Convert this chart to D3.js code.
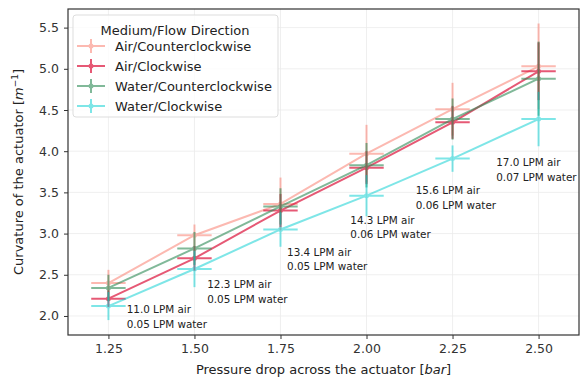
<!DOCTYPE html>
<html>
<head>
<meta charset="utf-8">
<script src="https://cdn.jsdelivr.net/npm/d3@7"></script>
<style>
  body { margin: 0; background: #fff; }
  text { font-family: "DejaVu Sans", sans-serif; }
</style>
</head>
<body>
<div id="chart"></div>
<script>
// pressure drop (bar)
const pressures = [1.25, 1.50, 1.75, 2.00, 2.25, 2.50];
const xErr = 0.05;

const seriesNames = ["Air/Counterclockwise", "Air/Clockwise", "Water/Counterclockwise", "Water/Clockwise"];
const airCcw = [2.40, 2.98, 3.36, 3.97, 4.51, 5.03];
const airCw = [2.21, 2.70, 3.28, 3.80, 4.35, 4.97];
const waterCcw = [2.34, 2.82, 3.33, 3.83, 4.39, 4.88];
const waterCw = [2.12, 2.57, 3.05, 3.46, 3.91, 4.39];

const airCcwErr = [0.16, 0.13, 0.32, 0.35, 0.32, 0.52];
const airCwErr = [0.10, 0.15, 0.20, 0.20, 0.20, 0.35];
const waterCcwErr = [0.16, 0.20, 0.22, 0.27, 0.25, 0.45];
const waterCwErr = [0.17, 0.22, 0.21, 0.25, 0.16, 0.33];

// flow rate notes, placed in data coordinates
const airFlow = ["11.0", "12.3", "13.4", "14.3", "15.6", "17.0"];
const waterFlow = ["0.05", "0.05", "0.05", "0.06", "0.06", "0.07"];
const noteX = [1.303, 1.537, 1.769, 1.953, 2.143, 2.377];
const noteY = [2.036, 2.336, 2.728, 3.117, 3.477, 3.820];

const xTicks = [1.25, 1.50, 1.75, 2.00, 2.25, 2.50];
const yTicks = [2.0, 2.5, 3.0, 3.5, 4.0, 4.5, 5.0, 5.5];

const colors = ["#fa8072", "#dc143c", "#2e8b57", "#00ced1"];
const alphas = [0.55, 0.7, 0.6, 0.5];

const series = [airCcw, airCw, waterCcw, waterCw].map((vals, i) => ({
    name: seriesNames[i],
    color: colors[i],
    alpha: alphas[i],
    points: vals.map((v, j) => ({ x: pressures[j], y: v, e: [airCcwErr, airCwErr, waterCcwErr, waterCwErr][i][j] }))
}));

const W = 581, H = 380;
const margin = { top: 9, right: 2, bottom: 45, left: 68 };
const width = W - margin.left - margin.right,
    height = H - margin.top - margin.bottom;

const svg = d3.select("#chart").append("svg")
    .attr("width", W).attr("height", H);
const g = svg.append("g").attr("transform", `translate(${margin.left},${margin.top})`);

const x = d3.scaleLinear().domain([1.1325, 2.6175]).range([0, width]);
const y = d3.scaleLinear().domain([1.769, 5.726]).range([height, 0]);

// grid
g.append("g").selectAll("line").data(xTicks).join("line")
    .attr("x1", d => x(d)).attr("x2", d => x(d)).attr("y1", 0).attr("y2", height)
    .attr("stroke", "#ebebeb").attr("stroke-width", 0.8);
g.append("g").selectAll("line").data(yTicks).join("line")
    .attr("y1", d => y(d)).attr("y2", d => y(d)).attr("x1", 0).attr("x2", width)
    .attr("stroke", "#ebebeb").attr("stroke-width", 0.8);

// axes
const xAxis = g.append("g").attr("transform", `translate(0,${height})`)
    .call(d3.axisBottom(x).tickValues(xTicks).tickFormat(d3.format(".2f")).tickSize(4).tickPadding(5));
const yAxis = g.append("g")
    .call(d3.axisLeft(y).tickValues(yTicks).tickFormat(d3.format(".1f")).tickSize(4).tickPadding(5));
[xAxis, yAxis].forEach(a => {
    a.select(".domain").remove();
    a.selectAll("line").attr("stroke", "#333");
    a.selectAll("text").attr("fill", "#333").style("font-size", "12.5px");
});

// series
const line = d3.line().x(d => x(d.x)).y(d => y(d.y));
series.forEach(s => {
    const sg = g.append("g").attr("opacity", s.alpha);
    sg.append("path").datum(s.points).attr("d", line)
        .attr("fill", "none").attr("stroke", s.color).attr("stroke-width", 2);
    sg.selectAll(".ev").data(s.points).join("line").attr("class", "ev")
        .attr("x1", d => x(d.x)).attr("x2", d => x(d.x))
        .attr("y1", d => y(d.y - d.e)).attr("y2", d => y(d.y + d.e))
        .attr("stroke", s.color).attr("stroke-width", 2);
    sg.selectAll(".eh").data(s.points).join("line").attr("class", "eh")
        .attr("x1", d => x(d.x - xErr)).attr("x2", d => x(d.x + xErr))
        .attr("y1", d => y(d.y)).attr("y2", d => y(d.y))
        .attr("stroke", s.color).attr("stroke-width", 2);
    sg.selectAll("circle").data(s.points).join("circle")
        .attr("cx", d => x(d.x)).attr("cy", d => y(d.y)).attr("r", 2.5)
        .attr("fill", s.color);
});

// flow notes
const notes = g.append("g").style("font-size", "10.4px").attr("fill", "#222");
airFlow.forEach((a, i) => {
    const t = notes.append("text").attr("x", x(noteX[i])).attr("y", y(noteY[i]));
    t.append("tspan").attr("x", x(noteX[i])).text(`${a} LPM air`);
    t.append("tspan").attr("x", x(noteX[i])).attr("dy", 14.5).text(`${waterFlow[i]} LPM water`);
});

// frame
g.append("rect").attr("width", width).attr("height", height)
    .attr("fill", "none").attr("stroke", "#333").attr("stroke-width", 1.2);

// legend
const leg = g.append("g").attr("transform", "translate(5,6)");
leg.append("rect").attr("width", 205).attr("height", 102).attr("rx", 3)
    .attr("fill", "#fff").attr("fill-opacity", 0.8).attr("stroke", "#ddd");
leg.append("text").attr("x", 102).attr("y", 20).attr("text-anchor", "middle")
    .style("font-size", "13px").attr("fill", "#222").text("Medium/Flow Direction");
series.forEach((s, i) => {
    const ly = 31 + i * 20;
    const item = leg.append("g").attr("opacity", s.alpha);
    item.append("line").attr("x1", 4).attr("x2", 32).attr("y1", ly).attr("y2", ly)
        .attr("stroke", s.color).attr("stroke-width", 2);
    item.append("line").attr("x1", 18).attr("x2", 18).attr("y1", ly - 7).attr("y2", ly + 7)
        .attr("stroke", s.color).attr("stroke-width", 2);
    item.append("circle").attr("cx", 18).attr("cy", ly).attr("r", 2.5).attr("fill", s.color);
    leg.append("text").attr("x", 42).attr("y", ly).attr("dy", "0.35em")
        .style("font-size", "13px").attr("fill", "#222").text(s.name);
});

// axis titles
const xt = svg.append("text").attr("x", margin.left + width / 2).attr("y", 374)
    .attr("text-anchor", "middle").style("font-size", "13px").attr("fill", "#222");
xt.append("tspan").text("Pressure drop across the actuator [");
xt.append("tspan").attr("font-style", "italic").text("bar");
xt.append("tspan").text("]");

const yt = svg.append("text").attr("transform", `translate(23,${margin.top + height / 2}) rotate(-90)`)
    .attr("text-anchor", "middle").style("font-size", "13px").attr("fill", "#222");
yt.append("tspan").text("Curvature of the actuator [");
yt.append("tspan").attr("font-style", "italic").text("m");
yt.append("tspan").attr("font-size", "9px").attr("dy", -5).text("\u22121");
yt.append("tspan").attr("dy", 5).text("]");
</script>
</body>
</html>
